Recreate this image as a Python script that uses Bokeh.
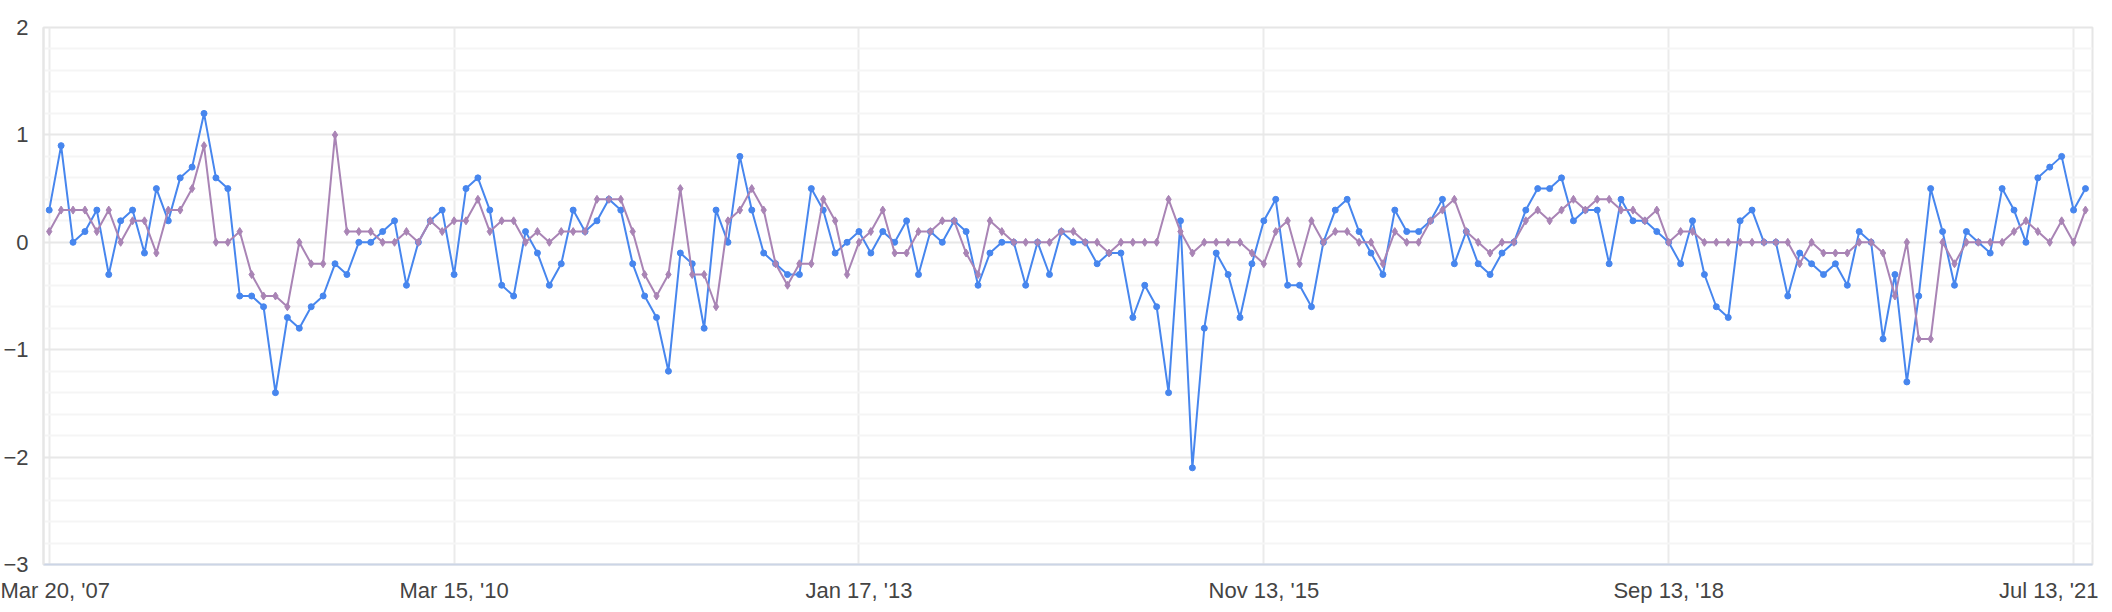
import numpy as np
from bokeh.plotting import figure
from bokeh.models import Range1d, FixedTicker, ColumnDataSource
from bokeh.embed import file_html
from bokeh.resources import INLINE

# ---- data (one value per release, equally spaced) ----
series_a = [
    0.3, 0.9, 0.0, 0.1, 0.3, -0.3, 0.2, 0.3, -0.1, 0.5, 0.2, 0.6, 0.7, 1.2, 0.6, 0.5, -0.5, -0.5, -0.6, -1.4, -0.7, -0.8, -0.6, -0.5, -0.2,
    -0.3, 0.0, 0.0, 0.1, 0.2, -0.4, 0.0, 0.2, 0.3, -0.3, 0.5, 0.6, 0.3, -0.4, -0.5, 0.1, -0.1, -0.4, -0.2, 0.3, 0.1, 0.2, 0.4, 0.3,
    -0.2, -0.5, -0.7, -1.2, -0.1, -0.2, -0.8, 0.3, 0.0, 0.8, 0.3, -0.1, -0.2, -0.3, -0.3, 0.5, 0.3, -0.1, 0.0, 0.1, -0.1, 0.1, 0.0, 0.2,
    -0.3, 0.1, 0.0, 0.2, 0.1, -0.4, -0.1, 0.0, 0.0, -0.4, 0.0, -0.3, 0.1, 0.0, 0.0, -0.2, -0.1, -0.1, -0.7, -0.4, -0.6, -1.4, 0.2, -2.1, -0.8,
    -0.1, -0.3, -0.7, -0.2, 0.2, 0.4, -0.4, -0.4, -0.6, 0.0, 0.3, 0.4, 0.1, -0.1, -0.3, 0.3, 0.1, 0.1, 0.2, 0.4, -0.2, 0.1, -0.2, -0.3,
    -0.1, 0.0, 0.3, 0.5, 0.5, 0.6, 0.2, 0.3, 0.3, -0.2, 0.4, 0.2, 0.2, 0.1, 0.0, -0.2, 0.2, -0.3, -0.6, -0.7, 0.2, 0.3, 0.0, 0.0,
    -0.5, -0.1, -0.2, -0.3, -0.2, -0.4, 0.1, 0.0, -0.9, -0.3, -1.3, -0.5, 0.5, 0.1, -0.4, 0.1, 0.0, -0.1, 0.5, 0.3, 0.0, 0.6, 0.7, 0.8, 0.3, 0.5,
]
series_b = [
    0.1, 0.3, 0.3, 0.3, 0.1, 0.3, 0.0, 0.2, 0.2, -0.1, 0.3, 0.3, 0.5, 0.9, 0.0, 0.0, 0.1, -0.3, -0.5, -0.5, -0.6, 0.0, -0.2, -0.2, 1.0,
    0.1, 0.1, 0.1, 0.0, 0.0, 0.1, 0.0, 0.2, 0.1, 0.2, 0.2, 0.4, 0.1, 0.2, 0.2, 0.0, 0.1, 0.0, 0.1, 0.1, 0.1, 0.4, 0.4, 0.4,
    0.1, -0.3, -0.5, -0.3, 0.5, -0.3, -0.3, -0.6, 0.2, 0.3, 0.5, 0.3, -0.2, -0.4, -0.2, -0.2, 0.4, 0.2, -0.3, 0.0, 0.1, 0.3, -0.1, -0.1,
    0.1, 0.1, 0.2, 0.2, -0.1, -0.3, 0.2, 0.1, 0.0, 0.0, 0.0, 0.0, 0.1, 0.1, 0.0, 0.0, -0.1, 0.0, 0.0, 0.0, 0.0, 0.4, 0.1, -0.1, 0.0,
    0.0, 0.0, 0.0, -0.1, -0.2, 0.1, 0.2, -0.2, 0.2, 0.0, 0.1, 0.1, 0.0, 0.0, -0.2, 0.1, 0.0, 0.0, 0.2, 0.3, 0.4, 0.1, 0.0, -0.1,
    0.0, 0.0, 0.2, 0.3, 0.2, 0.3, 0.4, 0.3, 0.4, 0.4, 0.3, 0.3, 0.2, 0.3, 0.0, 0.1, 0.1, 0.0, 0.0, 0.0, 0.0, 0.0, 0.0, 0.0,
    0.0, -0.2, 0.0, -0.1, -0.1, -0.1, 0.0, 0.0, -0.1, -0.5, 0.0, -0.9, -0.9, 0.0, -0.2, 0.0, 0.0, 0.0, 0.0, 0.1, 0.2, 0.1, 0.0, 0.2, 0.0, 0.3,
]
tick_index = [0, 34, 68, 102, 136, 170]
tick_labels = ["Mar 20, '07", "Mar 15, '10", "Jan 17, '13", "Nov 13, '15", "Sep 13, '18", "Jul 13, '21"]
y_ticks = [-3, -2, -1, 0, 1, 2]
y_labels = ["\u22123", "\u22122", "\u22121", "0", "1", "2"]

idx = list(range(len(series_a)))
src = ColumnDataSource(dict(x=idx, a=series_a, b=series_b))

BLUE = "#4786ee"
PURPLE = "#a984b5"
FONT = "Liberation Sans"

p = figure(frame_width=2049, frame_height=537, output_backend="svg", toolbar_location=None,
           x_range=Range1d(-0.48, 171.59), y_range=Range1d(-3, 2),
           min_border_left=43, min_border_right=6, min_border_top=27, min_border_bottom=30)
p.background_fill_color = "white"
p.border_fill_color = "white"
p.outline_line_color = "#e6e6e6"
p.outline_line_width = 2

p.xaxis.ticker = FixedTicker(ticks=tick_index)
p.xaxis.major_label_overrides = {t: l for t, l in zip(tick_index, tick_labels)}
minor_y = [v for v in np.round(np.arange(-3, 2.01, 0.2), 1).tolist() if v not in y_ticks]
p.yaxis.ticker = FixedTicker(ticks=y_ticks, minor_ticks=minor_y)
p.yaxis.major_label_overrides = {t: l for t, l in zip(y_ticks, y_labels)}

for ax in (p.xaxis[0], p.yaxis[0]):
    ax.major_tick_line_color = None
    ax.minor_tick_line_color = None
    ax.major_tick_out = 0
    ax.major_tick_in = 0
    ax.minor_tick_out = 0
    ax.minor_tick_in = 0
    ax.major_label_text_font = FONT
    ax.major_label_text_font_size = "22px"
    ax.major_label_text_color = "#444444"
p.xaxis.axis_line_color = "#ccd5e6"
p.xaxis.axis_line_width = 2
p.yaxis.axis_line_color = "#e6e6e6"
p.yaxis.axis_line_width = 2
p.xaxis.major_label_standoff = 13
p.yaxis.major_label_standoff = 15

p.xgrid.grid_line_color = "#ebebeb"
p.xgrid.grid_line_width = 2
p.ygrid.grid_line_color = "#e8e8e8"
p.ygrid.grid_line_width = 2
p.ygrid.minor_grid_line_color = "#f5f5f5"
p.ygrid.minor_grid_line_width = 2

p.line("x", "a", source=src, color=BLUE, line_width=2)
p.scatter("x", "a", source=src, marker="circle", size=6, fill_color=BLUE, line_color=BLUE, line_width=1)
p.line("x", "b", source=src, color=PURPLE, line_width=2)
p.scatter("x", "b", source=src, marker="diamond", size=8, fill_color=PURPLE, line_color=PURPLE, line_width=1)

open("out.html", "w").write(file_html(p, INLINE))
